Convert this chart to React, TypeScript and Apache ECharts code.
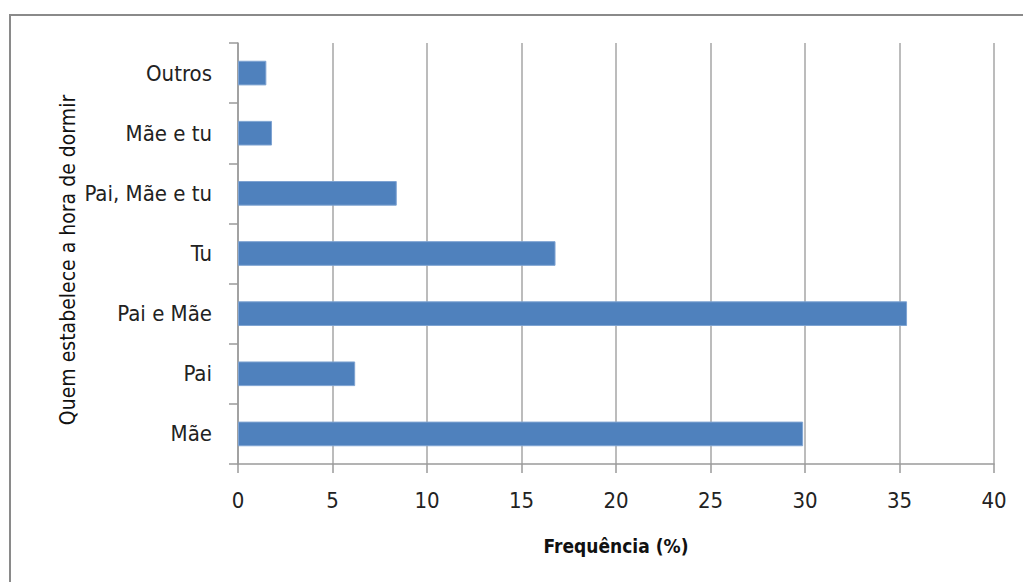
import React, { useEffect, useRef } from "react";
import * as echarts from "echarts";

// Categories listed bottom to top, as the category axis draws them
const categories = ["Mãe", "Pai", "Pai e Mãe", "Tu", "Pai, Mãe e tu", "Mãe e tu", "Outros"];
const frequencies = [29.9, 6.2, 35.4, 16.8, 8.4, 1.8, 1.5];
const xTicks = [0, 5, 10, 15, 20, 25, 30, 35, 40];

const xTitle = "Frequência (%)";
const yTitle = "Quem estabelece a hora de dormir";

const FONT = "'DejaVu Sans Condensed', 'Liberation Sans Narrow', 'Liberation Sans', sans-serif";

export default function App() {
  const ref = useRef<HTMLDivElement>(null);

  useEffect(() => {
    document.body.style.margin = "0";
    if (!ref.current) return;
    const chart = echarts.init(ref.current, null, { renderer: "svg" });
    chart.setOption({
      animation: false,
      backgroundColor: "#ffffff",
      graphic: [
        {
          type: "polyline",
          shape: { points: [[10, 582], [10, 15], [1023, 15]] },
          style: { stroke: "#8a8a8a", lineWidth: 2, fill: "none" },
          silent: true,
        },
        {
          type: "text",
          x: 68,
          y: 260,
          rotation: Math.PI / 2,
          style: {
            text: yTitle,
            font: `21px ${FONT}`,
            fill: "#111",
            align: "center",
            verticalAlign: "middle",
          },
        },
      ],
      grid: { left: 238, right: 29, top: 43, bottom: 118 },
      xAxis: {
        type: "value",
        min: xTicks[0],
        max: xTicks[xTicks.length - 1],
        interval: 5,
        name: xTitle,
        nameLocation: "middle",
        nameGap: 72,
        nameTextStyle: { fontFamily: FONT, fontSize: 19, color: "#111", fontWeight: "bold" },
        axisLine: { show: true, lineStyle: { color: "#9a9a9a", width: 1.5 } },
        axisTick: { show: true, length: 9, lineStyle: { color: "#9a9a9a", width: 1.5 } },
        axisLabel: { fontFamily: FONT, fontSize: 22, color: "#222", margin: 25 },
        splitLine: { show: true, lineStyle: { color: "#a6a6a6", width: 1.5 } },
      },
      yAxis: {
        type: "category",
        data: categories,
        axisLine: { show: true, lineStyle: { color: "#9a9a9a", width: 1.5 } },
        axisTick: { show: true, length: 9, lineStyle: { color: "#9a9a9a", width: 1.5 } },
        axisLabel: { fontFamily: FONT, fontSize: 22, color: "#222", margin: 26 },
      },
      series: [
        {
          type: "bar",
          data: frequencies,
          barCategoryGap: "59%",
          itemStyle: { color: "#4f81bd", borderColor: "#7ea3d2", borderWidth: 1 },
        },
      ],
    });
    return () => chart.dispose();
  }, []);

  return <div ref={ref} style={{ width: 1023, height: 582 }} />;
}
